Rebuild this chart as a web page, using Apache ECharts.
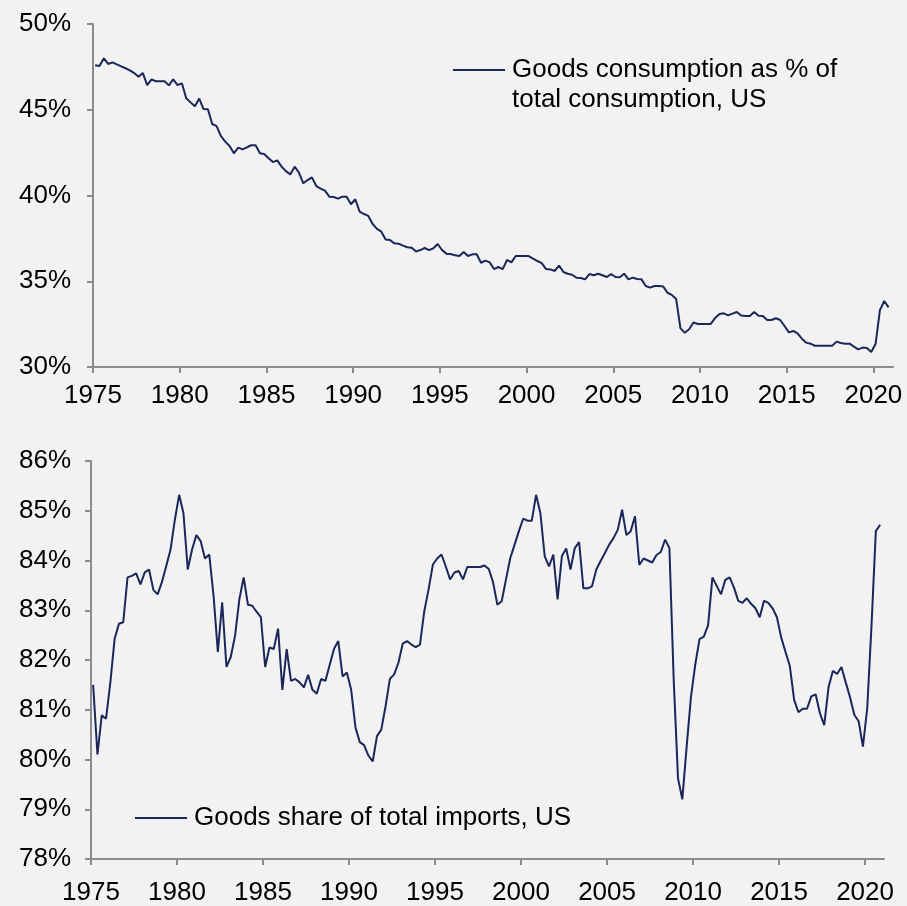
<!DOCTYPE html>
<html>
<head>
<meta charset="utf-8">
<style>
  html, body { margin: 0; padding: 0; background: #f2f2f2; }
  #chart { width: 907px; height: 906px; }
</style>
<script src="https://cdn.jsdelivr.net/npm/echarts@6/dist/echarts.min.js"></script>
</head>
<body>
<div id="chart"></div>
<script>
// Quarterly data, 1975Q1 .. 2020Q4
const firstYear = 1975;
const lastYear = 2020;
const xTickYears = [1975, 1980, 1985, 1990, 1995, 2000, 2005, 2010, 2015, 2020];
const consumptionTicks = [30, 35, 40, 45, 50];
const importTicks = [78, 79, 80, 81, 82, 83, 84, 85, 86];

const consumptionLegend = 'Goods consumption as % of\ntotal consumption, US';
const importsLegend = 'Goods share of total imports, US';

// Goods consumption as % of total consumption, US (%)
const goodsConsumptionShare = [
  47.6, 47.55, 48.0, 47.67, 47.76, 47.65, 47.53, 47.42, 47.3, 47.14,
  46.93, 47.14, 46.44, 46.77, 46.66, 46.66, 46.66, 46.42, 46.77, 46.44,
  46.54, 45.67, 45.43, 45.2, 45.65, 45.04, 45.03, 44.17, 44.05, 43.47,
  43.14, 42.89, 42.46, 42.79, 42.69, 42.81, 42.93, 42.93, 42.46, 42.42,
  42.17, 41.95, 42.05, 41.68, 41.42, 41.23, 41.68, 41.33, 40.71, 40.9,
  41.06, 40.55, 40.4, 40.28, 39.93, 39.91, 39.82, 39.93, 39.93, 39.49,
  39.78, 39.06, 38.92, 38.81, 38.34, 38.05, 37.89, 37.44, 37.41, 37.21,
  37.19, 37.08, 36.98, 36.96, 36.73, 36.82, 36.94, 36.82, 36.92, 37.17,
  36.82, 36.61, 36.59, 36.51, 36.47, 36.71, 36.47, 36.57, 36.57, 36.08,
  36.2, 36.1, 35.71, 35.83, 35.71, 36.24, 36.1, 36.47, 36.47, 36.47,
  36.47, 36.32, 36.18, 36.06, 35.71, 35.69, 35.6, 35.91, 35.54, 35.44,
  35.38, 35.21, 35.19, 35.11, 35.42, 35.35, 35.44, 35.35, 35.25, 35.42,
  35.25, 35.23, 35.44, 35.11, 35.21, 35.13, 35.11, 34.72, 34.63, 34.72,
  34.72, 34.7, 34.33, 34.2, 33.97, 32.25, 32.0, 32.2, 32.6, 32.51,
  32.51, 32.51, 32.51, 32.86, 33.09, 33.13, 33.01, 33.11, 33.21, 33.0,
  32.97, 32.97, 33.21, 32.99, 32.97, 32.74, 32.74, 32.84, 32.74, 32.39,
  32.02, 32.1, 31.96, 31.65, 31.42, 31.36, 31.24, 31.24, 31.24, 31.24,
  31.24, 31.48, 31.4, 31.36, 31.36, 31.19, 31.03, 31.13, 31.11, 30.87,
  31.34, 33.32, 33.85, 33.48
];

// Goods share of total imports, US (%)
const goodsImportShare = [
  81.5, 80.1, 80.89, 80.82, 81.55, 82.43, 82.73, 82.76, 83.66, 83.69,
  83.74, 83.52, 83.76, 83.82, 83.41, 83.32, 83.57, 83.89, 84.22, 84.82,
  85.32, 84.95, 83.82, 84.22, 84.51, 84.39, 84.04, 84.12, 83.29, 82.16,
  83.16, 81.86, 82.06, 82.49, 83.22, 83.66, 83.11, 83.09, 82.97, 82.86,
  81.86, 82.25, 82.22, 82.63, 81.4, 82.22, 81.58, 81.62, 81.55, 81.45,
  81.7, 81.4, 81.32, 81.62, 81.58, 81.9, 82.22, 82.38, 81.67, 81.75,
  81.4, 80.64, 80.35, 80.29, 80.08, 79.96, 80.47, 80.6, 81.07, 81.62,
  81.71, 81.95, 82.33, 82.38, 82.31, 82.26, 82.31, 82.98, 83.42, 83.92,
  84.04, 84.12, 83.88, 83.62, 83.76, 83.79, 83.62, 83.87, 83.87, 83.87,
  83.87, 83.9, 83.83, 83.56, 83.11, 83.18, 83.62, 84.05, 84.32, 84.59,
  84.84, 84.8, 84.8, 85.32, 84.95, 84.09, 83.88, 84.12, 83.22, 84.09,
  84.24, 83.82, 84.25, 84.37, 83.44, 83.44, 83.48, 83.82, 83.99, 84.15,
  84.32, 84.45, 84.62, 85.02, 84.51, 84.59, 84.89, 83.91, 84.04, 84.0,
  83.96, 84.11, 84.17, 84.42, 84.25, 81.6, 79.62, 79.2, 80.25, 81.25,
  81.9, 82.42, 82.47, 82.7, 83.66, 83.49, 83.32, 83.61, 83.66, 83.46,
  83.19, 83.15, 83.24, 83.13, 83.04, 82.86, 83.19, 83.15, 83.04, 82.86,
  82.45, 82.16, 81.88, 81.2, 80.95, 81.02, 81.02, 81.27, 81.31, 80.93,
  80.69, 81.45, 81.78, 81.72, 81.86, 81.55, 81.25, 80.9, 80.77, 80.26,
  81.03, 82.7, 84.59, 84.72
];

// mid-quarter position of each quarter on the year axis
const quarterDates = [];
for (let y = firstYear; y <= lastYear; y++) {
  for (let q = 1; q <= 4; q++) quarterDates.push(y + (q - 0.5) / 4);
}

const pairs = (vals) => vals.map((v, i) => [quarterDates[i], v]);

const FONT = '"Liberation Sans", Arial, sans-serif';
const AXIS_GREY = '#8c8c8c';
const LINE_NAVY = '#1b2759';

function xAxisCfg(gridIndex, max, margin) {
  return {
    type: 'value', gridIndex, min: 1975, max,
    axisLine: { show: true, lineStyle: { color: AXIS_GREY, width: 2 } },
    axisTick: { show: true, length: 6, lineStyle: { color: AXIS_GREY, width: 2 }, customValues: xTickYears },
    axisLabel: { show: true, customValues: xTickYears, margin, fontSize: 26, fontFamily: FONT, color: '#000', formatter: (v) => String(v) },
    splitLine: { show: false }
  };
}
function yAxisCfg(gridIndex, ticks, interval, margin) {
  return {
    type: 'value', gridIndex, min: ticks[0], max: ticks[ticks.length - 1], interval,
    axisLine: { show: true, lineStyle: { color: AXIS_GREY, width: 2 } },
    axisTick: { show: true, length: 6, lineStyle: { color: AXIS_GREY, width: 2 } },
    axisLabel: { margin, fontSize: 26, fontFamily: FONT, color: '#000', formatter: (v) => v + '%' },
    splitLine: { show: false }
  };
}

const chart = echarts.init(document.getElementById('chart'), null, { renderer: 'canvas' });
chart.setOption({
  backgroundColor: '#f2f2f2',
  animation: false,
  grid: [
    { left: 93, top: 24, width: 800, height: 343 },
    { left: 91, top: 461, width: 793, height: 401 }
  ],
  xAxis: [xAxisCfg(0, 2021.13, 16), xAxisCfg(1, 2021.1, 21)],
  yAxis: [yAxisCfg(0, consumptionTicks, 5, 22), yAxisCfg(1, importTicks, 1, 20)],
  series: [
    {
      name: consumptionLegend, type: 'line', xAxisIndex: 0, yAxisIndex: 0,
      data: pairs(goodsConsumptionShare), showSymbol: false, symbol: 'none',
      lineStyle: { color: LINE_NAVY, width: 2 }, itemStyle: { color: LINE_NAVY }
    },
    {
      name: importsLegend, type: 'line', xAxisIndex: 1, yAxisIndex: 1,
      data: pairs(goodsImportShare), showSymbol: false, symbol: 'none',
      lineStyle: { color: LINE_NAVY, width: 2 }, itemStyle: { color: LINE_NAVY }
    }
  ],
  graphic: [
    { type: 'line', shape: { x1: 453, y1: 70, x2: 505, y2: 70 }, style: { stroke: LINE_NAVY, lineWidth: 2 } },
    { type: 'text', x: 512, y: 55, style: { text: consumptionLegend, font: '26px ' + FONT, fill: '#000', lineHeight: 30, verticalAlign: 'top' } },
    { type: 'line', shape: { x1: 135, y1: 818, x2: 187, y2: 818 }, style: { stroke: LINE_NAVY, lineWidth: 2 } },
    { type: 'text', x: 194, y: 818, style: { text: importsLegend, font: '26px ' + FONT, fill: '#000', verticalAlign: 'middle' } }
  ]
});
</script>
</body>
</html>
